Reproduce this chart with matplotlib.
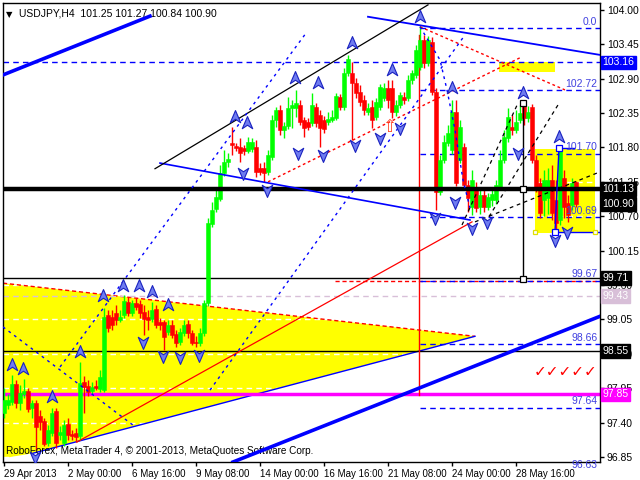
import matplotlib
matplotlib.use("Agg")
import matplotlib.pyplot as plt
from matplotlib.path import Path
from matplotlib.transforms import blended_transform_factory
import numpy as np

plt.rcParams['font.family'] = ['Liberation Sans', 'DejaVu Sans']

# ---------------- data (USDJPY H4) ----------------
opens = [97.55, 97.68, 97.73, 98.02, 97.71, 97.86, 97.90, 97.63, 97.71, 97.50,
         97.42, 97.07, 97.23, 97.58, 97.20, 97.07, 97.38, 97.22, 97.23, 97.18,
         98.05, 97.98, 97.90, 97.98, 97.94, 97.92, 99.12, 99.09, 99.15, 99.04,
         99.12, 99.33, 99.15, 99.31, 99.30, 99.17, 99.09, 99.06, 99.22, 99.01,
         99.01, 98.85, 98.96, 98.82, 98.69, 98.83, 98.98, 98.83, 98.69, 98.67,
         98.83, 99.31, 100.58, 100.82, 100.98, 101.39, 101.57, 101.87, 101.82, 101.81,
         101.79, 101.74, 101.78, 101.81, 101.47, 101.47, 101.41, 101.65, 102.24, 102.40,
         102.08, 102.14, 102.43, 102.43, 102.48, 102.24, 102.21, 102.19, 102.45, 102.32,
         102.24, 102.21, 102.24, 102.27, 102.61, 102.45, 102.99, 102.99, 102.83, 102.69,
         102.56, 102.37, 102.45, 102.29, 102.45, 102.59, 102.75, 102.75, 102.37, 102.48,
         102.61, 102.59, 102.88, 102.96, 103.09, 103.52, 103.15, 103.49, 102.69, 101.09,
         101.60, 101.87, 101.76, 102.37, 101.60, 101.81, 101.20, 100.85, 101.15, 100.85,
         101.04, 100.85, 100.96, 100.96, 101.17, 101.60, 101.95, 102.13, 102.08, 102.24,
         102.48, 102.27, 102.45, 101.60, 101.23, 100.96, 100.99, 101.28, 100.96, 100.64,
         101.31, 100.91, 100.88, 101.25]
highs = [97.95, 97.86, 98.16, 98.08, 98.00, 98.10, 97.95, 97.76, 97.76, 97.60,
         97.47, 97.36, 97.63, 97.63, 97.34, 97.44, 97.47, 97.28, 97.31, 98.37,
         98.14, 98.08, 98.05, 98.08, 98.24, 99.23, 99.20, 99.20, 99.28, 99.20,
         99.44, 99.41, 99.36, 99.39, 99.36, 99.28, 99.20, 99.33, 99.28, 99.07,
         99.04, 99.04, 99.04, 98.88, 98.91, 99.04, 99.04, 98.88, 98.78, 98.91,
         99.36, 100.67, 100.93, 101.12, 101.52, 101.76, 101.71, 102.13, 101.87, 101.95,
         101.84, 101.97, 101.95, 101.92, 101.55, 101.57, 101.76, 102.32, 102.45, 102.48,
         102.21, 102.61, 102.56, 102.72, 102.56, 102.29, 102.27, 102.67, 102.51, 102.40,
         102.30, 102.37, 102.40, 102.67, 102.66, 103.07, 103.28, 103.17, 102.91, 102.80,
         102.64, 102.51, 102.56, 102.59, 102.82, 102.83, 102.88, 102.88, 102.56, 102.69,
         102.69, 102.96, 103.04, 103.44, 103.74, 103.60, 103.58, 103.57, 102.75, 101.68,
         102.00, 102.16, 102.56, 102.56, 102.24, 101.87, 101.28, 101.44, 101.25, 101.12,
         101.12, 101.07, 101.15, 101.28, 101.76, 102.08, 102.43, 102.32, 102.40, 102.48,
         102.54, 102.46, 102.50, 101.68, 101.31, 101.44, 101.47, 101.52, 101.28, 101.79,
         101.44, 101.04, 101.31, 101.27]
lows = [97.47, 97.62, 97.68, 97.63, 97.60, 97.79, 97.57, 97.47, 96.96, 97.28,
        97.02, 97.02, 97.18, 96.99, 97.12, 97.02, 97.12, 97.12, 97.09, 97.12,
        97.55, 97.82, 97.86, 97.92, 97.89, 97.89, 98.85, 98.88, 98.96, 99.01,
        99.07, 99.10, 99.10, 99.20, 99.07, 98.80, 98.88, 99.01, 98.91, 98.88,
        98.56, 98.80, 98.75, 98.61, 98.64, 98.78, 98.75, 98.64, 98.61, 98.62,
        98.78, 99.26, 100.53, 100.77, 100.94, 101.34, 101.49, 101.68, 101.74, 101.57,
        101.68, 101.71, 101.73, 101.33, 101.36, 101.25, 101.36, 101.60, 102.13, 102.00,
        101.95, 102.09, 102.11, 102.29, 102.16, 101.97, 102.08, 102.14, 102.13, 101.81,
        102.03, 102.16, 102.21, 102.24, 102.40, 102.40, 102.94, 101.92, 102.59, 102.46,
        102.32, 102.32, 102.11, 102.24, 102.40, 102.54, 102.43, 102.27, 102.30, 102.43,
        102.50, 102.54, 102.82, 102.91, 103.04, 103.07, 103.10, 102.64, 100.80, 101.04,
        101.55, 101.82, 101.70, 101.18, 101.55, 101.12, 100.77, 100.72, 100.77, 100.74,
        100.77, 100.80, 100.86, 100.90, 101.12, 101.55, 101.89, 102.00, 102.03, 102.19,
        102.16, 102.21, 101.55, 101.09, 100.67, 100.70, 100.74, 100.64, 100.45, 100.56,
        100.67, 100.61, 100.80, 100.84]
closes = [97.76, 97.76, 98.02, 97.71, 97.87, 97.90, 97.62, 97.71, 97.33, 97.41,
          97.06, 97.28, 97.55, 97.07, 97.25, 97.36, 97.20, 97.18, 97.17, 98.03,
          97.97, 97.89, 97.97, 97.95, 98.13, 99.09, 98.91, 98.96, 99.04, 99.09,
          99.34, 99.15, 99.31, 99.25, 99.15, 99.06, 99.04, 99.20, 98.96, 98.96,
          98.77, 98.96, 98.80, 98.67, 98.85, 98.96, 98.83, 98.67, 98.67, 98.83,
          99.31, 100.59, 100.80, 101.01, 101.39, 101.57, 101.62, 101.84, 101.79, 101.71,
          101.74, 101.89, 101.89, 101.41, 101.41, 101.39, 101.68, 102.24, 102.40, 102.08,
          102.14, 102.43, 102.48, 102.51, 102.21, 102.11, 102.13, 102.48, 102.19, 102.11,
          102.10, 102.26, 102.29, 102.62, 102.45, 102.99, 103.22, 102.83, 102.67, 102.53,
          102.40, 102.43, 102.24, 102.53, 102.77, 102.75, 102.56, 102.37, 102.48, 102.64,
          102.56, 102.88, 102.99, 103.36, 103.52, 103.15, 103.52, 102.69, 101.09, 101.60,
          101.89, 102.03, 102.37, 101.23, 102.13, 101.20, 100.99, 101.28, 100.83, 101.04,
          100.85, 101.01, 101.06, 101.20, 101.60, 101.97, 102.29, 102.08, 102.21, 102.35,
          102.27, 102.37, 101.60, 101.17, 100.75, 101.28, 101.28, 100.75, 100.59, 101.76,
          100.85, 100.72, 101.23, 100.90]

date_labels = ["29 Apr 2013", "2 May 00:00", "6 May 16:00", "9 May 08:00", "14 May 00:00",
               "16 May 16:00", "21 May 08:00", "24 May 00:00", "28 May 16:00"]
date_bars = [0, 16, 32, 48, 64, 80, 96, 112, 128]
price_ticks = [96.85, 97.40, 97.95, 98.50, 99.05, 99.60, 100.15, 100.70, 101.25,
               101.80, 102.35, 102.90, 103.45, 104.00]

fib_levels = [103.71, 102.72, 101.70, 100.69, 99.67, 98.66, 97.64, 96.63]
fib_texts = ["0.0", "102.72", "101.70", "100.69", "99.67", "98.66", "97.64", "96.63"]

# highlighted price labels on the right scale: (price, box colour)
hl_prices = [103.16, 101.13, 100.90, 99.71, 99.43, 98.55, 97.85]
hl_boxes = ["#0000ff", "#000000", "#000000", "#000000", "#d8bfd8", "#000000", "#ff00ff"]

# fractal arrows (bar, price)
up_bars = [2, 4.75, 12, 19, 24.75, 29.75, 33.75, 37, 41, 57.75, 60.75, 72.75, 78.5, 87, 97,
           104, 112, 129.75, 138.75]
up_prices = [98.32, 98.26, 97.81, 98.53, 99.42, 99.58, 99.58, 99.49, 99.28, 102.29, 102.19,
             102.91, 102.83, 103.47, 103.04, 103.89, 102.75, 102.67, 101.97]
dn_bars = [7.75, 34.75, 39.75, 44, 48.75, 59.75, 65.75, 73.5, 79.75, 87.75, 94, 99,
           107.75, 112.75, 117, 120.75, 128.5, 137.75, 140.75]
dn_prices = [96.85, 98.69, 98.46, 98.45, 98.48, 101.39, 101.12, 101.71, 101.68, 101.84,
             101.95, 102.11, 100.67, 100.93, 100.51, 100.61, 101.71, 100.32, 100.45]

# ---------------- figure ----------------
fig = plt.figure(figsize=(6.4, 4.8), dpi=100)
ax = fig.add_axes([3 / 640, 18 / 480, 597 / 640, 459 / 480])
ax.set_xlim(-0.25, 149)
ax.set_ylim(96.77, 104.11)

n = len(closes)

# yellow triangle
tri_x = [-0.25, 117.75, 7.25, -0.25]
tri_y = [99.63, 98.78, 96.91, 96.83]
ax.fill(tri_x, tri_y, color="#ffff00", zorder=1, lw=0)
ax.plot([-0.25, 117.75], [99.63, 98.78], color="red", ls=(0, (3, 2)), lw=1, zorder=2)
ax.plot([7.25, 117.75], [96.91, 98.78], color="#0000ff", lw=1, zorder=2)

# yellow rectangles
ax.fill_between([123.75, 137.75], 103.01, 103.17, color="#ffff00", lw=0, zorder=1)
ax.fill_between([132.75, 147.75], 100.43, 101.78, color="#ffff00", lw=0, zorder=1)

# white dashed grid (visible only over the yellow)
for p in price_ticks:
    ax.axhline(p, color="white", ls=(0, (4, 3)), lw=1, zorder=1.5)

# horizontal levels
ax.axhline(99.43, color="#d8bfd8", ls=(0, (4, 3)), lw=1, zorder=2)
ax.axhline(103.16, color="#0000ff", ls=(0, (4, 3)), lw=1, zorder=2)
ax.axhline(99.71, color="black", lw=1, zorder=2)
ax.axhline(98.55, color="black", lw=1, zorder=2)
ax.axhline(97.85, color="#ff00ff", lw=2.5, zorder=2)
ax.plot([82.75, 149], [99.66, 99.66], color="red", ls=(0, (3, 2)), lw=1, zorder=2)
ax.plot([103.75, 103.75], [103.60, 97.84], color="red", lw=1, zorder=2)

# fibonacci levels
for p, t in zip(fib_levels, fib_texts):
    ax.plot([104, 149], [p, p], color="#0000ff", ls=(0, (4, 3)), lw=1, zorder=2)
    ax.text(148.3, p + 0.02, t, color="#4040e0", fontsize=7.5, ha="right", va="bottom", zorder=6)

# candles
for i in range(n):
    o, h, l, c = opens[i], highs[i], lows[i], closes[i]
    col = "#00ff00" if c >= o else "#ff0000"
    ax.plot([i, i], [l, h], color=col, lw=1, zorder=3, solid_capstyle="butt")
    lo, hi = min(o, c), max(o, c)
    ax.bar(i, max(hi - lo, 0.015), bottom=lo, width=0.8, color=col, edgecolor=col, lw=0.4, zorder=3)

# thick black level
ax.axhline(101.13, color="black", lw=3.2, zorder=4)

# trend lines
ax.plot([-0.25, 36.5], [102.96, 103.90], color="#0000ff", lw=2.6, zorder=4)
ax.plot([57.25, 149], [96.77, 99.10], color="#0000ff", lw=2.6, zorder=4)
ax.plot([91, 149], [103.89, 103.28], color="#0000ff", lw=1.3, zorder=4)
ax.plot([39, 116.5], [101.55, 100.64], color="#0000ff", lw=1.2, zorder=4)
ax.plot([37.75, 106], [101.46, 104.08], color="black", lw=0.9, zorder=4)
ax.plot([66, 129.5], [101.25, 103.25], color="red", ls=(0, (2, 2)), lw=1, zorder=4)
ax.plot([104, 140.25], [103.73, 102.72], color="red", ls=(0, (2, 2)), lw=1, zorder=4)
ax.plot([18.25, 117], [97.09, 100.61], color="red", lw=0.9, zorder=4)
ax.plot([14, 75.75], [98.29, 103.65], color="#0000ff", ls=(0, (2, 3)), lw=1, zorder=4)
ax.plot([51.5, 115.25], [97.92, 103.60], color="#0000ff", ls=(0, (2, 3)), lw=1, zorder=4)
ax.plot([-0.25, 32.25], [98.93, 97.36], color="#0000ff", ls=(0, (2, 3)), lw=1, zorder=4)
ax.plot([104, 109, 110.75, 112.75, 114.75, 116.5], [103.73, 103.2, 102.72, 102.08, 101.28, 100.83],
        color="#0000ff", ls=(0, (2, 3)), lw=1, zorder=4)
ax.plot([114.5, 128.5], [100.56, 102.51], color="black", ls=(0, (3, 3)), lw=0.9, zorder=4)
ax.plot([120.25, 138.5], [100.59, 102.48], color="black", ls=(0, (3, 3)), lw=0.9, zorder=4)
ax.plot([117.75, 149], [100.61, 101.41], color="black", ls=(0, (3, 3)), lw=0.9, zorder=4)

# vertical measuring line
ax.plot([129.75, 129.75], [102.51, 99.70], color="black", lw=1, zorder=4)
ax.plot([129.75] * 3, [102.51, 101.13, 99.70], ls="none", marker="s", ms=4,
        mfc="white", mec="black", mew=0.9, zorder=5)
ax.plot([138.75, 137.75], [101.79, 100.45], color="#0000ff", lw=1, zorder=4)
ax.plot([138.75, 142.5], [101.79, 101.79], color="#0000ff", lw=1, zorder=4)
ax.plot([137.75, 149], [100.45, 100.45], color="#0000ff", lw=1, zorder=4)
ax.plot([138.75, 137.75], [101.79, 100.45], ls="none", marker="s", ms=4,
        mfc="white", mec="#0000ff", mew=0.9, zorder=5)
ax.plot([132.75, 147.75], [100.45, 100.45], ls="none", marker="s", ms=3.5,
        mfc="white", mec="#e0e000", mew=0.9, zorder=5)

# fractal arrows
up_path = Path([(0, 1), (0.75, -0.75), (0, -0.25), (-0.75, -0.75), (0, 1)],
               [Path.MOVETO, Path.LINETO, Path.LINETO, Path.LINETO, Path.CLOSEPOLY])
dn_path = Path([(0, -1), (0.75, 0.75), (0, 0.25), (-0.75, 0.75), (0, -1)],
               [Path.MOVETO, Path.LINETO, Path.LINETO, Path.LINETO, Path.CLOSEPOLY])
ax.plot(up_bars, up_prices, ls="none", marker=up_path, ms=10, mfc="#6f7cf0", mec="#1a22c0",
        mew=0.8, zorder=5)
ax.plot(dn_bars, dn_prices, ls="none", marker=dn_path, ms=10, mfc="#6f7cf0", mec="#1a22c0",
        mew=0.8, zorder=5)

ax.text(96.25, 102.13, "\u21e7", color="#ff4020", fontsize=12, ha="center", va="center",
        family="DejaVu Sans", zorder=6)
ax.text(140.5, 98.21, "\u2713\u2713\u2713\u2713\u2713", color="red", fontsize=11, ha="center",
        va="center", family="DejaVu Sans", zorder=6)

# header / footer texts
ax.text(0.005, 0.985, "\u25bc", transform=ax.transAxes, fontsize=6, va="top", ha="left",
        family="DejaVu Sans")
ax.text(0.026, 0.987, "USDJPY,H4  101.25 101.27 100.84 100.90", transform=ax.transAxes,
        fontsize=7.5, va="top", ha="left")
ax.text(0.005, 0.012, "RoboForex, MetaTrader 4, \u00a9 2001-2013, MetaQuotes Software Corp.",
        transform=ax.transAxes, fontsize=7.2, va="bottom", ha="left")

# axes styling
for s in ax.spines.values():
    s.set_color("black")
    s.set_linewidth(1)
ax.yaxis.tick_right()
ax.set_yticks(price_ticks)
ax.set_yticklabels([f"{p:.2f}" for p in price_ticks])
ax.set_xticks(date_bars)
ax.set_xticklabels(date_labels)
for lab in ax.get_xticklabels():
    lab.set_horizontalalignment("left")
ax.tick_params(axis="both", direction="out", length=3, width=1, labelsize=7.5, pad=2,
               colors="black")
ax.tick_params(axis="x", labelsize=7)

trans = blended_transform_factory(ax.transAxes, ax.transData)
for p, bc in zip(hl_prices, hl_boxes):
    ax.text(1.004, p, f"{p:.2f}", transform=trans, color="white", fontsize=7.5, va="center",
            ha="left", zorder=7, clip_on=False,
            bbox=dict(boxstyle="square,pad=0.18", fc=bc, ec=bc))

fig.savefig("out.png", dpi=100)
